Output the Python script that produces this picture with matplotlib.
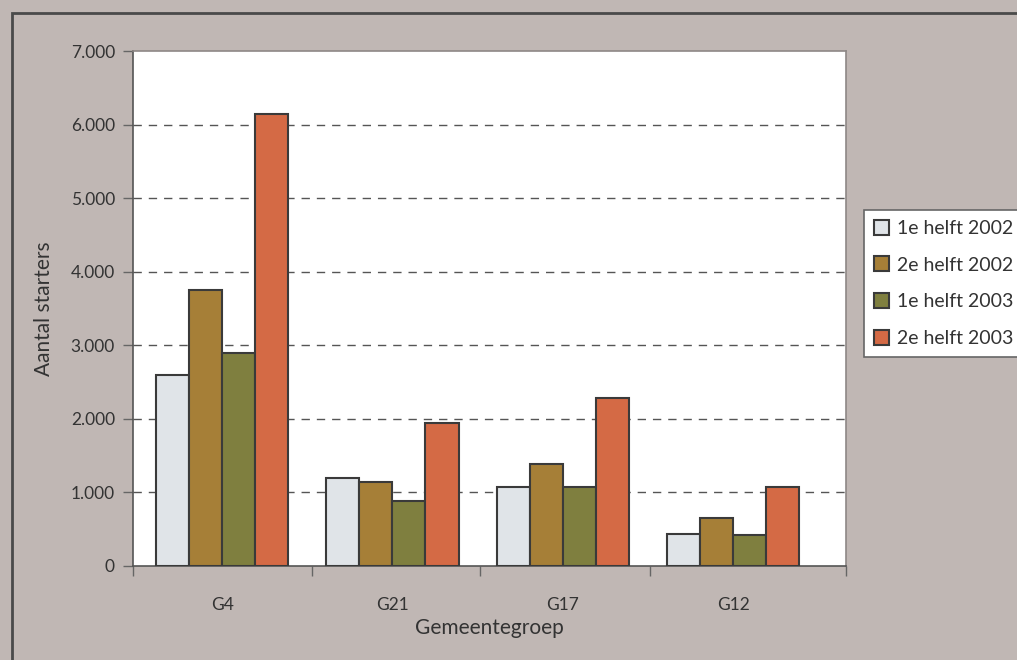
import numpy as np
import matplotlib
matplotlib.use('Agg')
import matplotlib.pyplot as plt
from matplotlib.patches import Rectangle
from matplotlib.ticker import FuncFormatter

groups = ['G4', 'G21', 'G17', 'G12']
series_names = ['1e helft 2002', '2e helft 2002', '1e helft 2003', '2e helft 2003']
h1_2002 = [2600, 1200, 1075, 435]
h2_2002 = [3750, 1140, 1390, 650]
h1_2003 = [2900, 880, 1075, 420]
h2_2003 = [6150, 1950, 2285, 1075]
colors = ['#e0e4e8', '#a67f37', '#7f7f3f', '#d46a45']

plt.rcParams['font.family'] = ['Lato', 'DejaVu Sans']
bg = '#c0b7b4'
text_col = '#333333'

fig = plt.figure(figsize=(10.17, 6.6), dpi=100, facecolor=bg)
# outer frame
fig.patches.append(Rectangle((12 / 1017, -0.1), 1.2, 1.1 - 13 / 660, transform=fig.transFigure,
                             facecolor='none', edgecolor='#4a4a4a', lw=2, zorder=0))

ax = fig.add_axes([133 / 1017, 1 - 566 / 660, 713 / 1017, 515 / 660])
ax.set_facecolor('white')

x = np.arange(len(groups))
width = 0.194
all_series = [h1_2002, h2_2002, h1_2003, h2_2003]
for i, (vals, name, c) in enumerate(zip(all_series, series_names, colors)):
    ax.bar(x + (i - 1.5) * width, vals, width, color=c, edgecolor='#3a3a3a',
           linewidth=1.5, label=name, zorder=3)

ax.set_ylim(0, 7000)
ax.set_xlim(-0.523, 3.663)
ax.set_yticks(np.arange(0, 7001, 1000))
ax.yaxis.set_major_formatter(FuncFormatter(lambda v, p: f'{int(v):,}'.replace(',', '.')))
for yv in range(1000, 7000, 1000):
    ax.axhline(yv, color='#555555', lw=1, linestyle=(0, (6, 5)), zorder=1)

ax.set_xticks(x)
ax.set_xticklabels(groups)
ax.set_xticks([-0.523, 0.53, 1.516, 2.51, 3.663], minor=True)
ax.tick_params(axis='x', which='major', length=0, pad=22, labelsize=12.5, labelcolor=text_col)
ax.tick_params(axis='x', which='minor', length=7, width=1, color='#666666')
ax.tick_params(axis='y', length=7, width=1, color='#666666', labelsize=12.5,
               labelcolor=text_col, pad=6)

for side in ['left', 'bottom']:
    ax.spines[side].set_color('#555555')
    ax.spines[side].set_linewidth(1.2)
for side in ['top', 'right']:
    ax.spines[side].set_color('#8e8886')
    ax.spines[side].set_linewidth(1.2)

ax.set_ylabel('Aantal starters', fontsize=15, color=text_col, labelpad=12)
ax.set_xlabel('Gemeentegroep', fontsize=15, color=text_col, labelpad=4)

leg = fig.legend(loc='upper left', bbox_to_anchor=(864 / 1017, 1 - 210 / 660),
                 borderaxespad=0, fontsize=14, frameon=True, fancybox=False, framealpha=1,
                 handlelength=0.8, handleheight=0.8, handletextpad=0.4,
                 labelspacing=1.0, borderpad=0.5, labelcolor=text_col)
leg.get_frame().set_edgecolor('#666666')
leg.get_frame().set_linewidth(1.2)
leg.get_frame().set_facecolor('white')

fig.savefig('out.png', dpi=100, facecolor=bg)
